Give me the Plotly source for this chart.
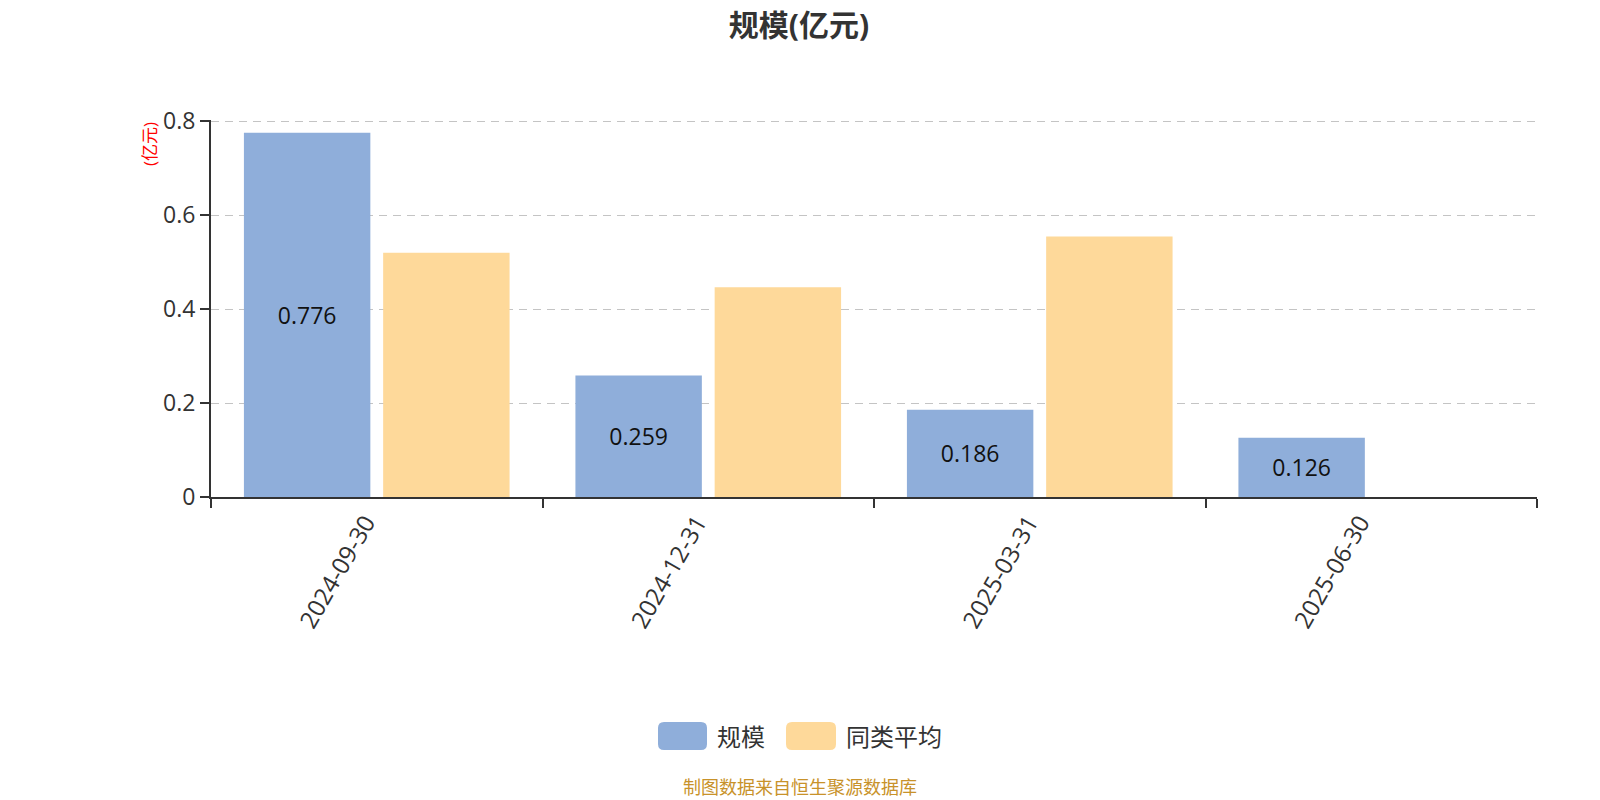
import plotly.graph_objects as go

categories = ["2024-09-30", "2024-12-31", "2025-03-31", "2025-06-30"]
scale_values = [0.776, 0.259, 0.186, 0.126]
peer_avg_values = [0.520, 0.447, 0.555, None]
scale_labels = ["0.776", "0.259", "0.186", "0.126"]
y_ticks = [0, 0.2, 0.4, 0.6, 0.8]
y_tick_text = ["0", "0.2", "0.4", "0.6", "0.8"]
series_names = ["规模", "同类平均"]
series_colors = ["#8FAEDA", "#FED99A"]

FONT = "Open Sans, Noto Sans CJK SC, sans-serif"

# Figure is 8px smaller than the page because of the default body margin
W, H = 1592, 792
L, R, T, B = 203, 63, 112, 303
PW, PH = W - L - R, H - T - B


def px(fx):
    return (fx - L) / PW


def py(fy):
    return (T + PH - fy) / PH


def rounded_rect(x0, y0, x1, y1, r):
    X = px
    Y = py
    return (f"M {X(x0 + r)} {Y(y0)} L {X(x1 - r)} {Y(y0)} "
            f"Q {X(x1)} {Y(y0)} {X(x1)} {Y(y0 + r)} L {X(x1)} {Y(y1 - r)} "
            f"Q {X(x1)} {Y(y1)} {X(x1 - r)} {Y(y1)} L {X(x0 + r)} {Y(y1)} "
            f"Q {X(x0)} {Y(y1)} {X(x0)} {Y(y1 - r)} L {X(x0)} {Y(y0 + r)} "
            f"Q {X(x0)} {Y(y0)} {X(x0 + r)} {Y(y0)} Z")


fig = go.Figure()
fig.add_trace(go.Bar(
    x=categories, y=scale_values, name=series_names[0],
    marker=dict(color=series_colors[0], line=dict(width=0)),
    text=scale_labels, textposition="inside", insidetextanchor="middle",
    textfont=dict(size=23, color="#111111", family=FONT),
    showlegend=False, hoverinfo="x+y",
))
fig.add_trace(go.Bar(
    x=categories, y=peer_avg_values, name=series_names[1],
    marker=dict(color=series_colors[1], line=dict(width=0)),
    showlegend=False, hoverinfo="x+y",
))

fig.update_layout(
    width=W, height=H,
    paper_bgcolor="white", plot_bgcolor="white",
    margin=dict(l=L, r=R, t=T, b=B),
    barmode="group", bargap=0.16, bargroupgap=0.092,
    font=dict(family=FONT, color="#333333"),
    title=dict(text="<b>规模(亿元)</b>", x=791 / W, xanchor="center", xref="container",
               y=1 - 17 / H, yanchor="middle", yref="container",
               font=dict(size=30, color="#333333", family=FONT)),
    uniformtext=dict(mode=False),
)
fig.update_xaxes(
    type="category", showline=True, linecolor="#333333", linewidth=2,
    ticks="outside", tickson="boundaries", ticklen=9, tickwidth=2, tickcolor="#333333",
    tickangle=-60, tickfont=dict(size=24, color="#333333", family=FONT),
    ticklabelshift=-11,
    showgrid=False, zeroline=False,
)
fig.update_yaxes(
    range=[0, 0.803], tickvals=y_ticks, ticktext=y_tick_text,
    showline=True, linecolor="#333333", linewidth=2,
    ticks="outside", ticklen=9, tickwidth=2, tickcolor="#333333",
    tickfont=dict(size=23, color="#333333", family=FONT),
    showgrid=True, gridcolor="#C4C4C4", griddash="8px,6px", gridwidth=1,
    zeroline=False,
)

# y-axis unit label
fig.add_annotation(
    text="(亿元)", textangle=-90, xref="paper", yref="paper",
    x=px(141), y=py(112), xanchor="center", yanchor="top", showarrow=False,
    font=dict(size=17, color="#FF0000", family=FONT),
)

# custom legend with large rounded swatches
swatches = [(650, 699, 707), (778, 828, 836)]
for (sx0, sx1, tx), name, color in zip(swatches, series_names, series_colors):
    fig.add_shape(type="path", xref="paper", yref="paper",
                  path=rounded_rect(sx0, 714, sx1, 742, 6),
                  fillcolor=color, line=dict(width=0), layer="above")
    fig.add_annotation(text=name, xref="paper", yref="paper", x=px(tx), y=py(728),
                       xanchor="left", yanchor="middle", showarrow=False,
                       font=dict(size=24, color="#333333", family=FONT))

fig.add_annotation(
    text="制图数据来自恒生聚源数据库", xref="paper", yref="paper",
    x=px(791.5), y=py(779), xanchor="center", yanchor="middle", showarrow=False,
    font=dict(size=18, color="#C8922A", family=FONT),
)

fig.write_html("out.html")
